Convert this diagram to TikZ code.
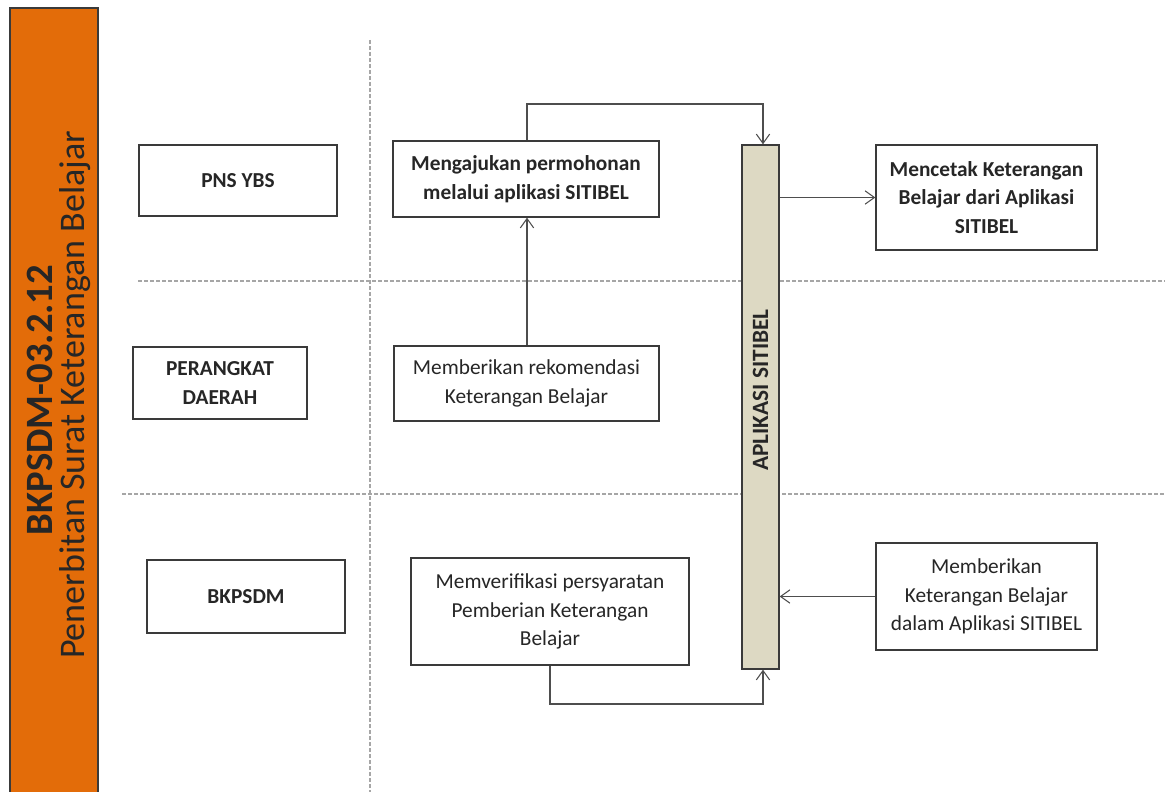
\documentclass[tikz,border=0pt]{standalone}
\usepackage{fontspec}
\setmainfont{Carlito}
\usetikzlibrary{arrows.meta}
\definecolor{orangebar}{HTML}{E36C09}
\definecolor{barfill}{HTML}{DDD9C3}
\definecolor{boxline}{HTML}{3A3A3A}
\definecolor{dashgray}{HTML}{A6A6A6}
\def\u{0.75pt}
\tikzset{
  box/.style={draw=boxline, line width=1pt, fill=white, align=center, inner sep=2pt,
    font=\fontsize{16}{21.5}\selectfont, text=black!85},
  boldbox/.style={box, font=\fontsize{16}{21.5}\selectfont\bfseries},
  conn/.style={draw=boxline!90, line width=0.9pt, -{Straight Barb[length=7pt,width=10pt,line width=0.8pt]}},
  lane/.style={draw=dashgray, line width=0.8pt, dash pattern=on 3pt off 1.5pt},
}
\begin{document}
\begin{tikzpicture}[x=0.75pt,y=-0.75pt]
\useasboundingbox (0,0) rectangle (1165,792);
\begin{scope}
\clip (0,0) rectangle (1165,792);
% orange title bar
\draw[draw=boxline, line width=1pt, fill=orangebar] (10,8) rectangle (98,810);
\node[rotate=90, font=\fontsize{29}{33}\selectfont\bfseries, text=black!85] (code) at (40,400) {BKPSDM-03.2.12};
\node[rotate=90, font=\fontsize{27}{31}\selectfont, text=black!85] (title) at (75,395) {Penerbitan Surat Keterangan Belajar};
% swimlane dashed lines
\draw[lane] (370,40) -- (370,800);
\draw[lane] (138,281) -- (1165,281);
\draw[lane] (122,494) -- (1165,494);
\end{scope}
% actors
\node[boldbox, minimum width=198*\u, minimum height=71*\u] (pns) at (238,180.5) {PNS YBS};
\node[boldbox, minimum width=174*\u, minimum height=72*\u] (pd) at (220,383) {PERANGKAT\\DAERAH};
\node[boldbox, minimum width=198*\u, minimum height=73*\u] (bk) at (246,596.5) {BKPSDM};
% steps
\node[boldbox, minimum width=266*\u, minimum height=76*\u] (ajukan) at (526,179) {Mengajukan permohonan\\melalui aplikasi SITIBEL};
\node[box, minimum width=265*\u, minimum height=75*\u] (rekom) at (526.5,383.5) {Memberikan rekomendasi\\Keterangan Belajar};
\node[box, minimum width=278*\u, minimum height=107*\u] (verif) at (550,611.5) {Memverifikasi persyaratan\\Pemberian Keterangan\\Belajar};
\node[draw=boxline, line width=1pt, fill=barfill, minimum width=37*\u, minimum height=524*\u, inner sep=0pt] (app) at (760.5,407) {};
\node[rotate=90, font=\fontsize{17.5}{20}\selectfont\bfseries, text=black!85] (applbl) at (760.5,390) {APLIKASI SITIBEL};
\node[boldbox, minimum width=221*\u, minimum height=105*\u] (cetak) at (986.5,197.5) {Mencetak Keterangan\\Belajar dari Aplikasi\\SITIBEL};
\node[box, minimum width=221*\u, minimum height=107*\u] (beri) at (986.5,596.5) {Memberikan\\Keterangan Belajar\\dalam Aplikasi SITIBEL};
% connectors
\coordinate (c1) at (527,104);
\coordinate (c2) at (763,104);
\coordinate (c3) at (550,704);
\coordinate (c4) at (763,704);
\draw[conn] (ajukan.north -| c1) -- (c1) -- (c2) -- (app.north -| c2);
\draw[conn] (rekom.north -| c1) -- (ajukan.south -| c1);
\draw[conn] (app.east |- cetak.west) -- (cetak.west);
\draw[conn] (beri.west) -- (app.east |- beri.west);
\draw[conn] (verif.south -| c3) -- (c3) -- (c4) -- (app.south -| c4);
\end{tikzpicture}
\end{document}
